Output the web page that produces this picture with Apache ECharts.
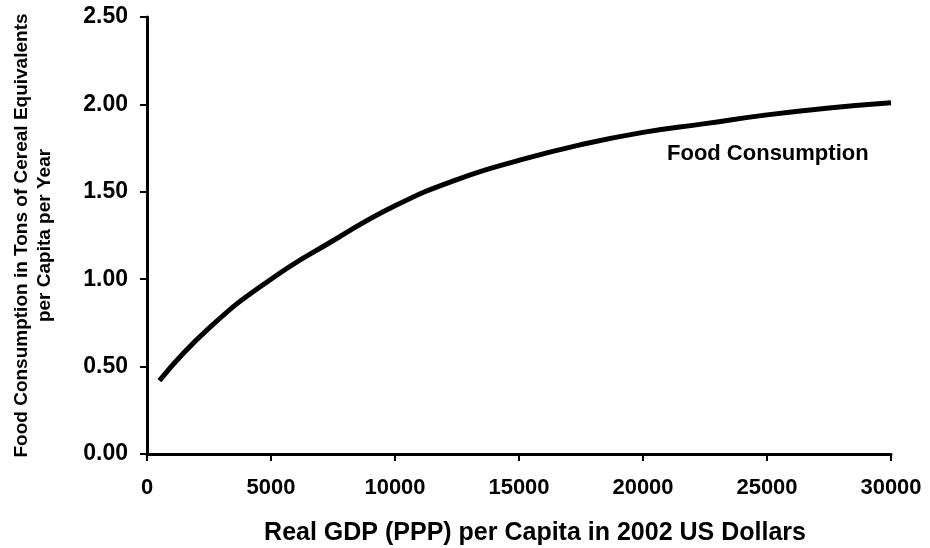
<!DOCTYPE html>
<html>
<head>
<meta charset="utf-8">
<script src="https://cdn.jsdelivr.net/npm/echarts@6/dist/echarts.min.js"></script>
<style>
  html, body { margin: 0; padding: 0; background: #fff; }
  #chart { width: 930px; height: 548px; }
</style>
</head>
<body>
<div id="chart"></div>
<script>
var gdp = [500, 2500, 5000, 7500, 10000, 12500, 15000, 17500, 20000, 22500, 25000, 27500, 30000];
var food = [0.42, 0.72, 1.00, 1.22, 1.42, 1.57, 1.68, 1.77, 1.84, 1.89, 1.94, 1.98, 2.01];
var seriesName = 'Food Consumption';

var font = 'Liberation Sans, Arial, sans-serif';
var chart = echarts.init(document.getElementById('chart'));

var option = {
    animation: false,
    grid: {
        left: 147,
        right: 39,
        top: 17,
        bottom: 94,
        containLabel: false,
        outerBoundsMode: 'none'
    },
    xAxis: {
        type: 'value',
        min: 0,
        max: 30000,
        interval: 5000,
        name: 'Real GDP (PPP) per Capita in 2002 US Dollars',
        nameLocation: 'middle',
        nameGap: 67,
        nameTextStyle: {
            color: '#000', fontFamily: font, fontWeight: 'bold', fontSize: 25,
            padding: [0, 0, 0, 32]
        },
        axisLine: { lineStyle: { color: '#000', width: 3 } },
        axisTick: { show: true, length: 7, lineStyle: { color: '#000', width: 2 } },
        axisLabel: {
            color: '#000', fontFamily: font, fontWeight: 'bold', fontSize: 22, margin: 23,
            formatter: function (v) { return String(v); }
        },
        splitLine: { show: false }
    },
    yAxis: {
        type: 'value',
        min: 0,
        max: 2.5,
        interval: 0.5,
        name: 'Food Consumption in Tons of Cereal Equivalents\nper Capita per Year',
        nameLocation: 'middle',
        nameGap: 91,
        nameTextStyle: { color: '#000', fontFamily: font, fontWeight: 'bold', fontSize: 19, lineHeight: 23 },
        axisLine: { show: true, lineStyle: { color: '#000', width: 3 } },
        axisTick: { show: true, length: 7, lineStyle: { color: '#000', width: 2 } },
        axisLabel: {
            color: '#000', fontFamily: font, fontWeight: 'bold', fontSize: 23, margin: 19,
            formatter: function (v) { return v.toFixed(2); }
        },
        splitLine: { show: false }
    },
    series: [{
        name: seriesName,
        type: 'line',
        data: gdp.map(function (x, i) { return [x, food[i]]; }),
        smooth: 0.5,
        showSymbol: false,
        lineStyle: { color: '#000', width: 5 }
    }],
    graphic: [{
        type: 'text',
        left: 667,
        top: 143,
        style: {
            text: seriesName,
            fill: '#000',
            font: 'bold 22px ' + font
        }
    }]
};

chart.setOption(option);
</script>
</body>
</html>
